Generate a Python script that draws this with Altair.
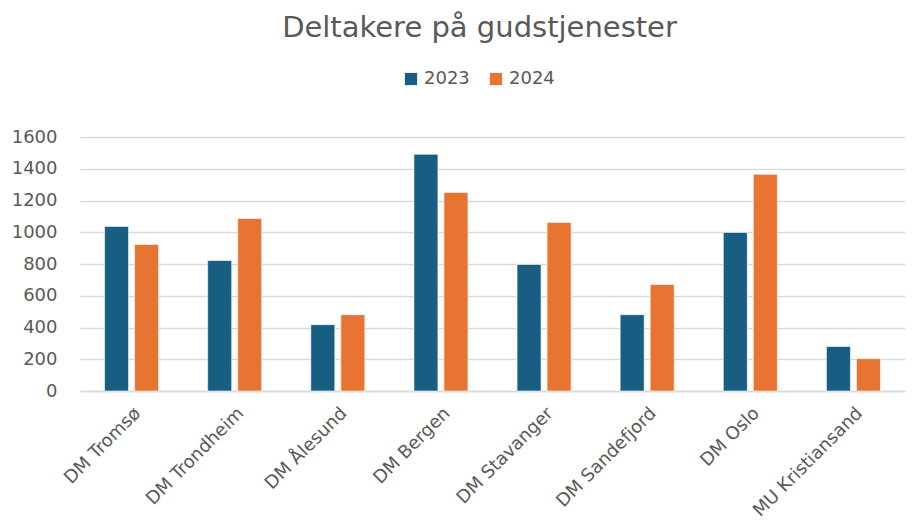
import altair as alt
import pandas as pd

categories = ["DM Tromsø", "DM Trondheim", "DM Ålesund", "DM Bergen",
              "DM Stavanger", "DM Sandefjord", "DM Oslo", "MU Kristiansand"]
years = ["2023", "2024"]
values_2023 = [1037, 822, 418, 1491, 797, 481, 999, 280]
values_2024 = [923, 1087, 481, 1251, 1062, 671, 1365, 204]
colors = ["#185e82", "#e87431"]

rows = []
for c, a, b in zip(categories, values_2023, values_2024):
    rows.append({"Kategori": c, "År": "2023", "Deltakere": a})
    rows.append({"Kategori": c, "År": "2024", "Deltakere": b})
df = pd.DataFrame(rows)

FONT = "DejaVu Sans"
GRAY = "#595959"

chart = alt.Chart(df).mark_bar(stroke="#ffffff", strokeWidth=1, strokeOpacity=0.6).encode(
    x=alt.X("Kategori:N", sort=categories, title=None,
            scale=alt.Scale(paddingInner=0.476, paddingOuter=0.238),
            axis=alt.Axis(labelAngle=-45, labelFontSize=18, labelColor=GRAY, labelFont=FONT,
                          ticks=False, domainColor="#d9d9d9", domainWidth=1.5, labelPadding=13)),
    xOffset=alt.XOffset("År:N", sort=years, scale=alt.Scale(paddingInner=0.2, paddingOuter=0)),
    y=alt.Y("Deltakere:Q", title=None,
            scale=alt.Scale(domain=[0, 1600]),
            axis=alt.Axis(values=list(range(0, 1601, 200)), format="d", labelFontSize=18,
                          labelColor=GRAY, labelFont=FONT, ticks=False, domain=False,
                          gridColor="#d9d9d9", gridWidth=1.5, labelPadding=23)),
    color=alt.Color("År:N", sort=years, scale=alt.Scale(domain=years, range=colors),
                    legend=alt.Legend(title=None, orient="none", legendX=322, legendY=-67,
                                      direction="horizontal", symbolType="square", symbolSize=150,
                                      symbolStrokeWidth=0, labelFontSize=18, labelColor=GRAY,
                                      labelFont=FONT, columnPadding=17, labelOffset=4)),
).properties(
    width=825, height=254,
    title=alt.TitleParams("Deltakere på gudstjenester", fontSize=29, font=FONT, color=GRAY,
                          fontWeight="normal", anchor="middle", offset=27, dx=-13),
    autosize=alt.AutoSizeParams(type="none"),
    padding={"left": 72, "top": 129, "right": 1, "bottom": 137},
).configure_view(stroke=None)

chart.save("out.html", embed_options={"renderer": "svg", "actions": False})
